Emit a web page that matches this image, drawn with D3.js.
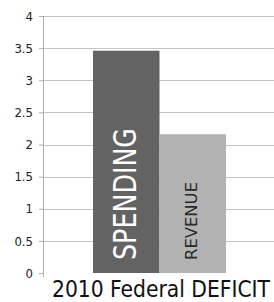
<!DOCTYPE html>
<html>
<head>
<meta charset="utf-8">
<script src="https://cdn.jsdelivr.net/npm/d3@7"></script>
<style>
    body { margin: 0; background: #fff; }
    svg text { font-family: "DejaVu Sans Condensed", "DejaVu Sans", sans-serif; }
</style>
</head>
<body>
<div id="svg_container"></div>
<script>
// chart data
const categories = ["SPENDING", "REVENUE"];
const values = [3.46, 2.16];
const barColors = ["#636363", "#b3b3b3"];
const labelColors = ["#ffffff", "#2a2a2a"];
const yTicks = [0, 0.5, 1, 1.5, 2, 2.5, 3, 3.5, 4];
const title = "2010 Federal DEFICIT";

const width = 274, height = 302;
const margin = {top: 16, right: 0, bottom: 29, left: 43};
const graphWidth = width - margin.left - margin.right;
const graphHeight = height - margin.top - margin.bottom;

const svg = d3.select("#svg_container")
        .append("svg")
        .attr("width", width)
        .attr("height", height);

const main = svg.append("g")
        .attr("transform", "translate(" + margin.left + "," + margin.top + ")");

const y = d3.scaleLinear().domain([0, 4]).range([graphHeight, 0]);
const x = d3.scaleBand().domain(categories).range([50, 183]).padding(0);

// gridlines
main.append("g")
        .selectAll("line")
        .data(yTicks.filter(d => d > 0))
        .join("line")
        .attr("x1", 0)
        .attr("x2", graphWidth)
        .attr("y1", d => Math.round(y(d)) + 0.5)
        .attr("y2", d => Math.round(y(d)) + 0.5)
        .attr("stroke", "#c4c4c4")
        .attr("stroke-width", 1.2);

// left axis
const yAxis = main.append("g")
        .attr("class", "y axis")
        .call(d3.axisLeft(y).tickValues(yTicks).tickSize(4).tickPadding(6).tickFormat(d3.format("")));
yAxis.select(".domain").attr("stroke", "#b0b0b0").attr("d", "M0.5,0V" + (graphHeight + 4));
yAxis.selectAll(".tick line").attr("stroke", "#b0b0b0");
yAxis.selectAll(".tick text")
        .attr("fill", "#222")
        .style("font-size", "13px");

// bars
main.selectAll("rect.bar")
        .data(categories)
        .join("rect")
        .attr("class", "bar")
        .attr("x", d => x(d))
        .attr("y", (d, i) => y(values[i]))
        .attr("width", x.bandwidth())
        .attr("height", (d, i) => graphHeight - y(values[i]))
        .attr("fill", (d, i) => barColors[i]);

// rotated labels inside bars
const labelSize = [32, 15];
const labelLen = [132, 78];
main.selectAll("text.barlabel")
        .data(categories)
        .join("text")
        .attr("class", "barlabel")
        .attr("transform", (d, i) => "translate(" + (x(d) + x.bandwidth() / 2 + labelSize[i] * 0.3) + "," + (graphHeight - 13) + ")rotate(-90)")
        .attr("fill", (d, i) => labelColors[i])
        .style("font-size", (d, i) => labelSize[i] + "px")
        .style("font-weight", (d, i) => i === 0 ? 300 : 400)
        .attr("textLength", (d, i) => labelLen[i])
        .attr("lengthAdjust", "spacingAndGlyphs")
        .text(d => d);

// title
svg.append("text")
        .attr("x", 52)
        .attr("y", 297)
        .attr("textLength", 218)
        .attr("lengthAdjust", "spacingAndGlyphs")
        .style("font-size", "23px")
        .attr("fill", "#111")
        .text(title);
</script>
</body>
</html>
